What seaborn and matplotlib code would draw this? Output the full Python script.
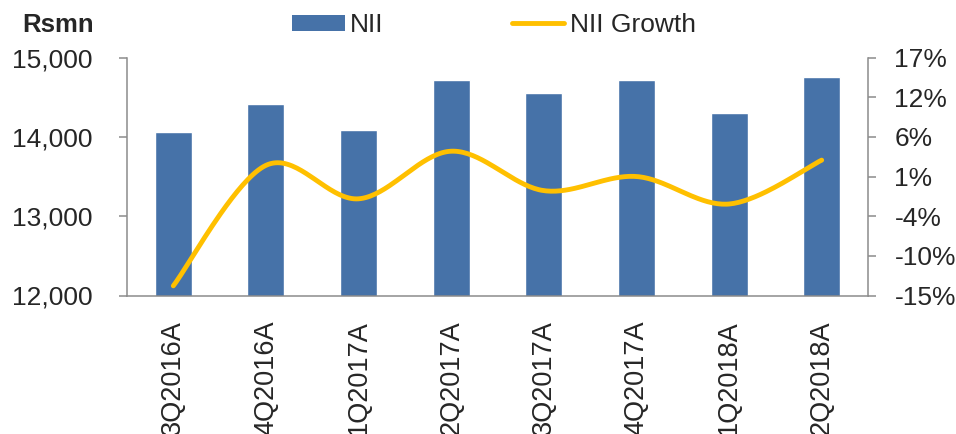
import numpy as np
import pandas as pd
import matplotlib
matplotlib.use("Agg")
import matplotlib.pyplot as plt
import seaborn as sns
from matplotlib.patches import Patch
from matplotlib.lines import Line2D

# Quarterly net interest income (Rs mn) and quarter-on-quarter growth (%)
quarters = ["3Q2016A", "4Q2016A", "1Q2017A", "2Q2017A",
            "3Q2017A", "4Q2017A", "1Q2018A", "2Q2018A"]
nii = [14055, 14412, 14088, 14715, 14551, 14715, 14299, 14753]
nii_growth = [-13.7, 2.5, -2.0, 4.4, -0.9, 1.0, -2.7, 3.2]

left_ticks = [12000, 13000, 14000, 15000]
growth_min, growth_max = -15, 17

BAR = "#4672A8"
LINE = "#FFC000"
SPINE = "#8C8C8C"

sns.set_style("white")
plt.rcParams["font.family"] = ["Liberation Sans", "DejaVu Sans"]
FS = 19

df = pd.DataFrame({"quarter": quarters, "nii": nii, "growth": nii_growth})

fig = plt.figure(figsize=(9.56, 4.34), dpi=100)
ax = fig.add_axes([127 / 956, 1 - 295.5 / 434, (868 - 127) / 956, (295.5 - 57.5) / 434])

sns.barplot(data=df, x="quarter", y="nii", color=BAR, saturation=1,
            width=0.4, ax=ax)
ax.set_ylim(12000, 15000)
ax.set_xlim(-0.5, len(quarters) - 0.5)
ax.set_yticks(left_ticks)
ax.set_yticklabels([f"{v:,}" for v in left_ticks], fontsize=FS)
ax.set_xticks(range(len(quarters)))
ax.set_xticklabels(quarters, rotation=90, fontsize=FS + 0.5)
ax.set_xticks(np.arange(-0.5, len(quarters), 1.0), minor=True)
ax.tick_params(axis="x", which="major", length=0, pad=18)
ax.tick_params(axis="x", which="minor", length=6, width=1.1, color=SPINE,
               direction="out")
ax.tick_params(axis="y", length=6, width=1.1, color=SPINE, pad=19,
               direction="out", left=True)
ax.set_xlabel("")
ax.set_ylabel("")
for s in ("top", "right"):
    ax.spines[s].set_visible(False)
for s in ("left", "bottom"):
    ax.spines[s].set_color(SPINE)
    ax.spines[s].set_linewidth(1.1)

# Growth line on the secondary axis, drawn as a smooth Catmull-Rom curve
ax2 = ax.twinx()
xs = np.arange(len(nii_growth), dtype=float)
ys = np.asarray(nii_growth, dtype=float)
px = np.concatenate([[xs[0]], xs, [xs[-1]]])
py = np.concatenate([[ys[0]], ys, [ys[-1]]])
cx, cy = [], []
t = np.linspace(0, 1, 40)
for i in range(1, len(px) - 2):
    p0 = np.array([px[i], py[i]])
    p3 = np.array([px[i + 1], py[i + 1]])
    p1 = p0 + (np.array([px[i + 1], py[i + 1]]) - np.array([px[i - 1], py[i - 1]])) / 6
    p2 = p3 - (np.array([px[i + 2], py[i + 2]]) - np.array([px[i], py[i]])) / 6
    b = ((1 - t) ** 3)[:, None] * p0 + (3 * (1 - t) ** 2 * t)[:, None] * p1 \
        + (3 * (1 - t) * t ** 2)[:, None] * p2 + (t ** 3)[:, None] * p3
    cx.extend(b[:, 0])
    cy.extend(b[:, 1])
sns.lineplot(x=cx, y=cy, sort=False, color=LINE, linewidth=3.5, ax=ax2,
             estimator=None)
ax2.lines[-1].set_solid_capstyle("round")
ax2.set_ylim(growth_min, growth_max)
right_ticks = np.linspace(growth_min, growth_max, 7)
ax2.set_yticks(right_ticks)
ax2.set_yticklabels([f"{v:.0f}%" for v in right_ticks], fontsize=FS)
ax2.tick_params(axis="y", length=6, width=1.1, color=SPINE, pad=13,
                direction="out", right=True)
for s in ("top", "left", "bottom"):
    ax2.spines[s].set_visible(False)
ax2.spines["right"].set_color(SPINE)
ax2.spines["right"].set_linewidth(1.1)
ax2.set_xlim(-0.5, len(quarters) - 0.5)

fig.text(22 / 956, 1 - 25 / 434, "Rsmn", fontsize=FS - 0.5, fontweight="bold",
         va="center", ha="left")

handles = [Patch(facecolor=BAR, edgecolor="none"),
           Line2D([0], [0], color=LINE, linewidth=3.5, solid_capstyle="round")]
fig.legend(handles, ["NII", "NII Growth"], loc="center left",
           bbox_to_anchor=(292 / 956, 1 - 25 / 434), ncol=2, frameon=False,
           fontsize=FS, handlelength=2.0, handleheight=0.55,
           handletextpad=0.2, columnspacing=4.85, borderpad=0,
           borderaxespad=0)

fig.savefig("out.png", dpi=100)
